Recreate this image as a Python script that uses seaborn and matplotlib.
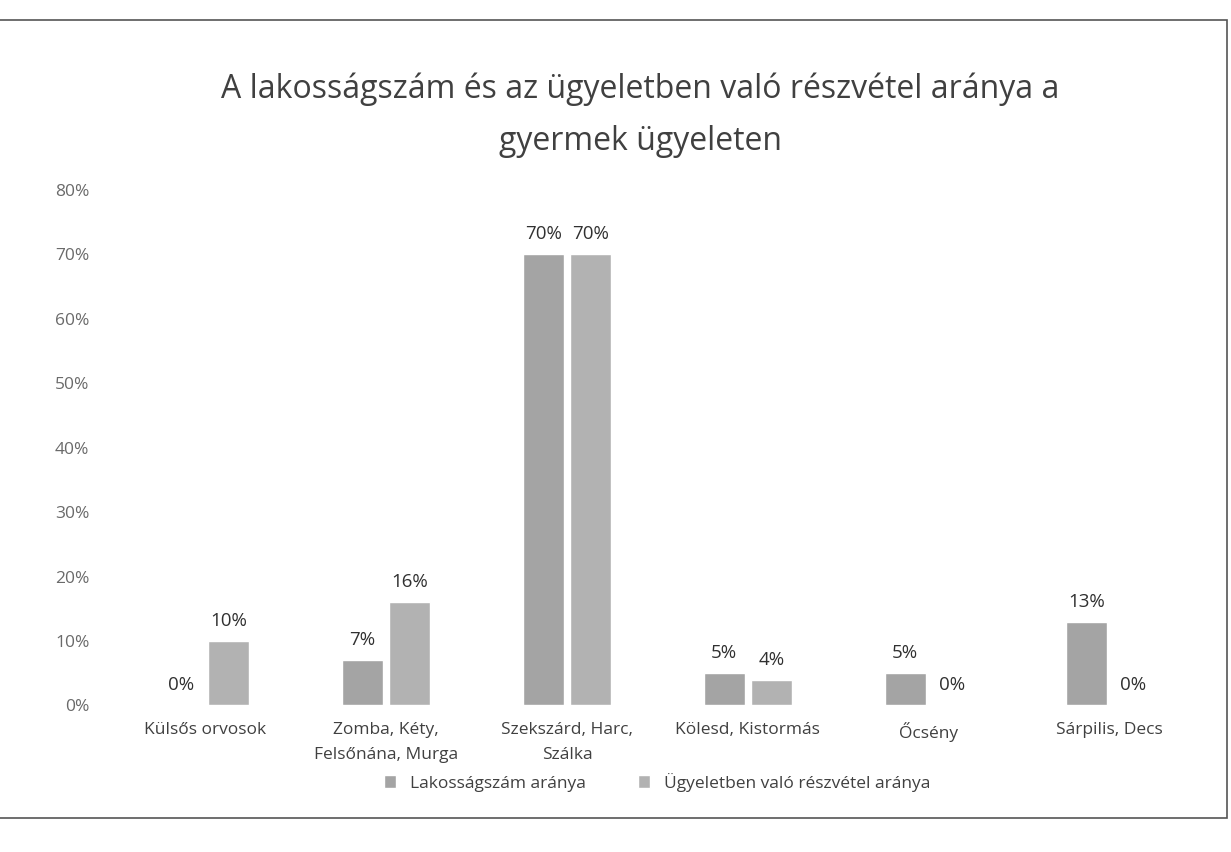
import pandas as pd
import seaborn as sns
import matplotlib.pyplot as plt
from matplotlib.patches import Rectangle

# Data
categories = ["Külsős orvosok", "Zomba, Kéty,\nFelsőnána, Murga", "Szekszárd, Harc,\nSzálka",
              "Kölesd, Kistormás", "Őcsény", "Sárpilis, Decs"]
lakossag = [0, 7, 70, 5, 5, 13]
ugyelet = [10, 16, 70, 4, 0, 0]
series_names = ["Lakosságszám aránya", "Ügyeletben való részvétel aránya"]
yticks = [0, 10, 20, 30, 40, 50, 60, 70, 80]

df = pd.DataFrame({
    "kategoria": categories * 2,
    "sorozat": [series_names[0]] * len(categories) + [series_names[1]] * len(categories),
    "ertek": lakossag + ugyelet,
})

sns.set_style("white")
plt.rcParams["font.family"] = ["Open Sans", "DejaVu Sans"]

fig = plt.figure(figsize=(12.31, 8.52), dpi=100)
ax = fig.add_axes([0.093, 0.172, 0.882, 0.605])

sns.barplot(data=df, x="kategoria", y="ertek", hue="sorozat",
            palette=["#a4a4a4", "#b2b2b2"], width=0.52, gap=0.12,
            ax=ax, legend=True)

ax.set_ylim(0, 80)
ax.set_yticks(yticks)
ax.set_yticklabels([f"{t}%" for t in yticks], color="#6a6a6a", fontsize=12.5)
ax.tick_params(axis="x", labelsize=12.5, labelcolor="#404040", length=0, pad=12)
ax.tick_params(axis="y", length=0, pad=18)
for lbl in ax.get_xticklabels():
    lbl.set_linespacing(1.75)
ax.set_xlabel("")
ax.set_ylabel("")
for s in ax.spines.values():
    s.set_visible(False)

# value labels
for cont in ax.containers:
    ax.bar_label(cont, labels=[f"{v:.0f}%" for v in cont.datavalues],
                 padding=8, fontsize=13.5, color="#303030")

ax.legend(loc="upper center", bbox_to_anchor=(0.5, -0.1), ncol=2, frameon=False,
          fontsize=12.5, handlelength=0.7, handleheight=0.7, columnspacing=3,
          labelcolor="#404040")

fig.suptitle("A lakosságszám és az ügyeletben való részvétel aránya a\ngyermek ügyeleten",
             x=0.52, y=0.915, fontsize=23, color="#404040", linespacing=1.75)

# chart border
fig.add_artist(Rectangle((-0.01, 0.04), 1.007, 0.937, transform=fig.transFigure,
                         fill=False, edgecolor="#555555", linewidth=1.2))

fig.savefig("out.png", dpi=100)
